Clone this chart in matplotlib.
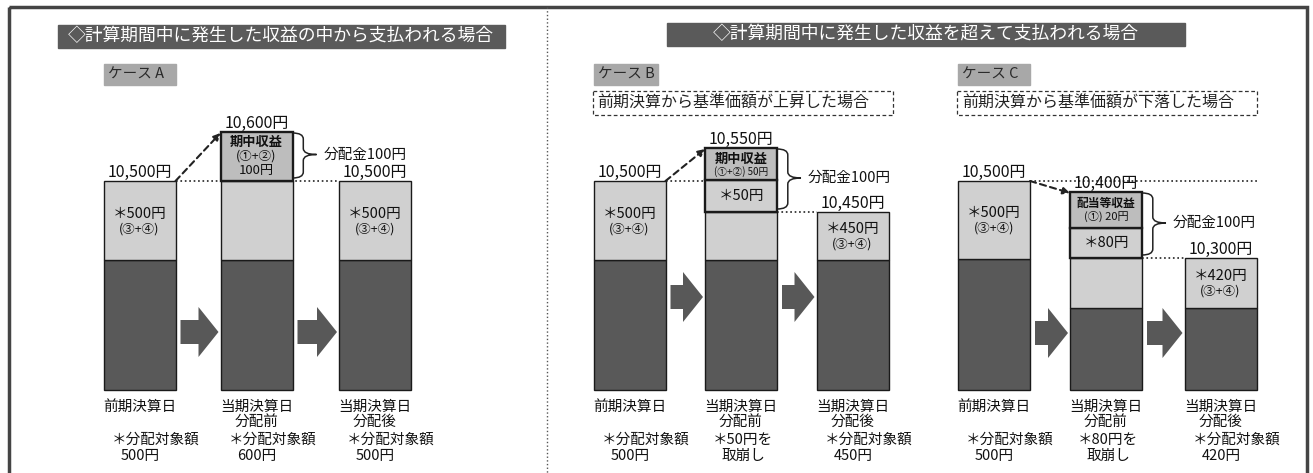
import matplotlib
matplotlib.use('Agg')
import matplotlib.pyplot as plt
from matplotlib.patches import Rectangle, FancyArrow, PathPatch
from matplotlib.path import Path

plt.rcParams['font.family'] = ['Noto Sans CJK JP', 'DejaVu Sans']

# ---- data ----
cases = ['A', 'B', 'C']
case_titles = ['ケース A', 'ケース B', 'ケース C']
case_notes = ['', '前期決算から基準価額が上昇した場合', '前期決算から基準価額が下落した場合']
stages = ['前期決算日', '当期決算日\n分配前', '当期決算日\n分配後']

nav_a = ['10,500円', '10,600円', '10,500円']
nav_b = ['10,500円', '10,550円', '10,450円']
nav_c = ['10,500円', '10,400円', '10,300円']

# schematic segment heights, bottom -> top: base, 分配対象額, 取崩し, 収益
seg_a = [[130, 79, 0, 0], [130, 79, 0, 49], [130, 79, 0, 0]]
seg_b = [[130, 79, 0, 0], [130, 48, 32, 32], [130, 48, 0, 0]]
seg_c = [[131, 78, 0, 0], [82, 50, 30, 36], [82, 50, 0, 0]]

# text inside segments {segment index: lines}
lab_a = [{1: ['＊500円', '(③+④)']}, {3: ['期中収益', '(①+②)', '100円']}, {1: ['＊500円', '(③+④)']}]
lab_b = [{1: ['＊500円', '(③+④)']}, {2: ['＊50円'], 3: ['期中収益', '(①+②) 50円']}, {1: ['＊450円', '(③+④)']}]
lab_c = [{1: ['＊500円', '(③+④)']}, {2: ['＊80円'], 3: ['配当等収益', '(①) 20円']}, {1: ['＊420円', '(③+④)']}]

notes_a = ['＊分配対象額\n500円', '＊分配対象額\n600円', '＊分配対象額\n500円']
notes_b = ['＊分配対象額\n500円', '＊50円を\n取崩し', '＊分配対象額\n450円']
notes_c = ['＊分配対象額\n500円', '＊80円を\n取崩し', '＊分配対象額\n420円']

dividend = '分配金100円'

# ---- layout ----
centers = {'A': [139.5, 256.5, 375], 'B': [629.5, 741, 852.5], 'C': [994, 1106, 1220.5]}
bar_w = 72
base_y = 390
arrow_y = {'A': 332, 'B': 297, 'C': 333}
seg_col = ['#595959', '#d0d0d0', '#d0d0d0', '#bdbdbd']

line_fs = {'(③+④)': 9, '(①+②)': 9, '(①+②) 50円': 7, '(①) 20円': 8,
           '期中収益': 9.5, '配当等収益': 8.5, '100円': 9.5}
bold_lines = ['期中収益', '配当等収益']

navs = {'A': nav_a, 'B': nav_b, 'C': nav_c}
segs = {'A': seg_a, 'B': seg_b, 'C': seg_c}
labs = {'A': lab_a, 'B': lab_b, 'C': lab_c}
notes = {'A': notes_a, 'B': notes_b, 'C': notes_c}

fig = plt.figure(figsize=(13.13, 4.73), dpi=100)
ax = fig.add_axes([0, 0, 1, 1])
ax.set_xlim(0, 1313)
ax.set_ylim(473, 0)
ax.axis('off')

# frame + divider
ax.add_patch(Rectangle((9, 7), 1298, 480, fill=False, lw=2.5, ec='#444'))
ax.plot([547, 547], [7, 473], ls=':', lw=1, color='#555')

# headers
ax.add_patch(Rectangle((58, 25), 447, 23, color='#5a5a5a'))
ax.text(281, 36.5, '◇計算期間中に発生した収益の中から支払われる場合', color='white',
        fontsize=12.8, ha='center', va='center')
ax.add_patch(Rectangle((667, 23), 518, 23, color='#5a5a5a'))
ax.text(926, 34.5, '◇計算期間中に発生した収益を超えて支払われる場合', color='white',
        fontsize=12.8, ha='center', va='center')


def brace(x0, y0, y1, ytip, w):
    xm = x0 + w * 0.45
    r = min(6, (y1 - y0) / 5)
    verts = [(x0, y0), (xm, y0), (xm, y0 + r), (xm, ytip - r), (xm, ytip), (x0 + w, ytip),
             (xm, ytip), (xm, ytip + r), (xm, y1 - r), (xm, y1), (x0, y1)]
    codes = [Path.MOVETO, Path.CURVE3, Path.CURVE3, Path.LINETO, Path.CURVE3, Path.CURVE3,
             Path.CURVE3, Path.CURVE3, Path.LINETO, Path.CURVE3, Path.CURVE3]
    ax.add_patch(PathPatch(Path(verts, codes), fill=False, lw=1.1, ec='#222'))


for ci, c in enumerate(cases):
    xs = centers[c]
    left0 = xs[0] - bar_w / 2
    # case label
    ax.add_patch(Rectangle((left0, 64), 72 if c != 'B' else 64, 21, color='#a8a8a8'))
    ax.text(left0 + 4, 75, case_titles[ci], fontsize=10.5, color='#2a2a2a', va='center')
    if case_notes[ci]:
        ax.add_patch(Rectangle((left0 - 1, 91), 300, 24, fill=False, ls=(0, (3, 2)),
                               lw=0.9, ec='#333'))
        ax.text(left0 + 4, 103, case_notes[ci], fontsize=11.5, color='#222', va='center')

    tops = []
    mid_bounds = None
    for i, (xc, sg) in enumerate(zip(xs, segs[c])):
        b = base_y
        bounds = []
        for k, h in enumerate(sg):
            if h == 0:
                bounds.append(None)
                continue
            ax.bar(xc, -h, bottom=b, width=bar_w, color=seg_col[k], ec='#1a1a1a',
                   lw=1.7 if k >= 2 else 1.0, zorder=3)
            bounds.append((b - h, b))
            b -= h
        tops.append(b)
        # inner labels
        for k, lines in labs[c][i].items():
            y0, y1 = bounds[k]
            fss = [line_fs.get(t, 10.5) for t in lines]
            hs = [f * 1.55 for f in fss]
            y = (y0 + y1) / 2 - sum(hs) / 2
            for t, f, hh in zip(lines, fss, hs):
                ax.text(xc, y + hh / 2, t, fontsize=f, ha='center', va='center', zorder=5,
                        color='#111', fontweight='bold' if t in bold_lines else 'normal')
                y += hh
        # value label
        ax.text(xc, b, navs[c][i], fontsize=11.5, ha='center', va='bottom', color='#111', zorder=5)
        # stage labels
        for j, t in enumerate(stages[i].split('\n')):
            ax.text(xc, 407 + 15 * j, t, fontsize=10.5, ha='center', va='center', color='#111')
        for j, t in enumerate(notes[c][i].split('\n')):
            ax.text(xc - bar_w / 2 + 8 + 9 * j, 440 + 16 * j, t, fontsize=10.5, ha='left',
                    va='center', color='#111')
        if i == 1:
            mid_bounds = bounds

    # block arrows between bars
    for i in range(2):
        x0 = xs[i] + bar_w / 2 + 5
        x1 = xs[i + 1] - bar_w / 2 - 2
        ax.add_patch(FancyArrow(x0, arrow_y[c], x1 - x0, 0, width=24, head_width=50,
                                head_length=20, length_includes_head=True,
                                color='#585858', lw=0))

    # dashed arrow bar1 -> bar2
    r0 = xs[0] + bar_w / 2
    l1 = xs[1] - bar_w / 2
    ax.annotate('', xy=(l1, tops[1] + 1), xytext=(r0, tops[0]),
                arrowprops=dict(arrowstyle='-|>', ls=(0, (3, 2)), lw=1.5, color='#222',
                                shrinkA=0, shrinkB=0, mutation_scale=10), zorder=6)

    # dotted level lines
    r1 = xs[1] + bar_w / 2
    l2 = xs[2] - bar_w / 2
    if c == 'A':
        ax.plot([r0, l2], [tops[0], tops[0]], ls=':', lw=1.2, color='#222', zorder=2)
    elif c == 'B':
        ax.plot([r0, l1], [tops[0], tops[0]], ls=':', lw=1.2, color='#222', zorder=2)
        ax.plot([r1, l2], [tops[2], tops[2]], ls=':', lw=1.2, color='#222', zorder=2)
    else:
        ax.plot([r0, 1258], [tops[0], tops[0]], ls=':', lw=1.2, color='#222', zorder=2)
        ax.plot([r1, l2], [tops[2], tops[2]], ls=':', lw=1.2, color='#222', zorder=2)

    # brace over the distributed part of bar 2
    top_b = tops[1]
    bot_b = mid_bounds[3][1] if c == 'A' else mid_bounds[2][1]
    tip = (top_b + bot_b) / 2 - 2
    brace(r1, top_b + 1, bot_b - 3, tip, 24)
    ax.text(r1 + 31, tip, dividend, fontsize=10.5, ha='left', va='center', color='#111')

fig.savefig('out.png', dpi=100)
